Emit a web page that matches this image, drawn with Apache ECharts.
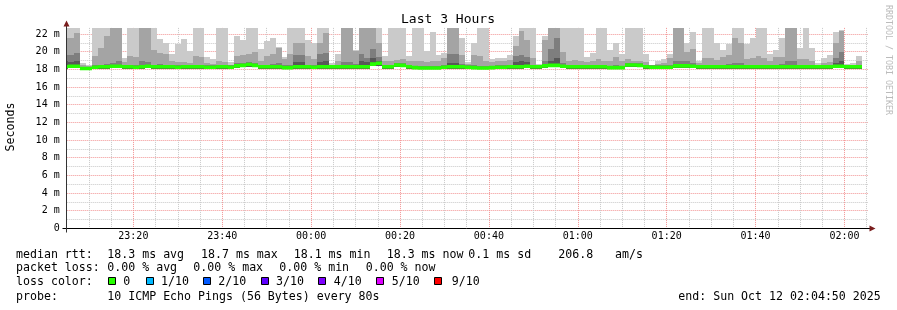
<!DOCTYPE html>
<html><head><meta charset="utf-8">
<script src="https://cdn.jsdelivr.net/npm/echarts@6/dist/echarts.min.js"></script>
<style>html,body{margin:0;padding:0;background:#fff}#c{width:897px;height:310px}</style>
</head><body><div id="c"></div>
<script>
// time in minutes after 23:00 (Oct 11); each sample covers 80 s
const FIRST_START = 4.0;
const STEP_MIN = 80 / 60;

// smoke: outermost (max ping) to inner pings, in ms
const maxPing = [
 22.9, 23.4, 24.0, 18.76, 18.5, 23.1, 24.5, 23.2, 25.0, 24.0,
 19.25, 23.0, 23.6, 25.5, 24.2, 23.3, 21.44, 20.95, 19.8, 20.9,
 21.44, 20.1, 23.0, 23.4, 19.4, 19.14, 22.9, 23.2, 18.88, 21.77,
 21.3, 23.5, 23.0, 20.3, 21.2, 21.6, 20.5, 19.4, 23.2, 24.0,
 23.6, 21.3, 20.95, 23.5, 24.4, 18.7, 19.8, 25.0, 24.6, 20.2,
 24.8, 24.1, 23.9, 23.3, 19.5, 23.4, 23.1, 23.8, 19.5, 23.2,
 22.9, 20.1, 22.2, 19.6, 19.9, 24.2, 23.7, 21.5, 18.8, 20.95,
 23.2, 22.9, 19.2, 19.3, 19.3, 19.6, 21.8, 23.4, 23.0, 23.1,
 18.6, 21.8, 24.3, 23.9, 23.1, 23.3, 23.6, 23.0, 19.4, 19.9,
 24.0, 23.2, 20.2, 20.95, 19.8, 23.4, 23.0, 23.5, 19.7, 18.3,
 18.9, 19.2, 19.7, 24.5, 24.0, 21.0, 22.2, 19.0, 23.3, 23.8,
 21.0, 20.2, 20.9, 23.6, 23.0, 20.9, 21.5, 23.2, 23.9, 19.7,
 20.2, 21.5, 24.8, 23.8, 20.4, 23.2, 20.4, 18.7, 19.25, 19.6,
 22.2, 22.45, 18.6, 18.7, 19.5
];
const ping9 = [
 21.5, 21.5, 22.15, 18.5, 18.35, 19.5, 20.4, 21.77, 23.5, 23.0,
 18.8, 19.5, 19.37, 23.2, 23.0, 20.2, 19.9, 19.8, 19.0, 18.88,
 18.88, 18.68, 19.5, 19.37, 18.7, 18.6, 18.9, 18.8, 18.5, 19.5,
 19.63, 19.8, 20.0, 18.9, 19.5, 19.8, 20.4, 19.2, 19.8, 20.95,
 21.0, 19.5, 19.2, 21.0, 22.1, 18.5, 18.9, 23.8, 23.3, 20.1,
 23.5, 23.0, 23.1, 21.0, 18.9, 19.0, 19.1, 19.2, 18.9, 19.0,
 18.9, 18.8, 18.9, 19.0, 19.3, 23.1, 22.9, 19.6, 18.6, 19.6,
 19.5, 18.9, 18.8, 18.9, 19.0, 19.1, 20.7, 22.3, 21.3, 19.3,
 18.5, 21.3, 23.0, 23.0, 20.0, 19.0, 19.1, 18.9, 18.8, 18.9,
 19.2, 19.0, 18.9, 19.4, 19.0, 19.2, 19.0, 19.0, 18.8, 18.3,
 18.6, 18.7, 19.3, 23.2, 23.0, 20.0, 20.3, 18.7, 19.3, 19.3,
 19.1, 19.4, 19.6, 21.5, 20.95, 19.2, 19.3, 19.5, 19.3, 18.9,
 19.4, 19.4, 23.5, 22.9, 19.2, 19.2, 18.9, 18.5, 18.7, 18.8,
 21.0, 22.4, 18.5, 18.5, 18.9
];
const ping8 = [
 19.6, 19.6, 19.9, 18.3, 18.3, 18.5, 18.5, 18.6, 18.7, 18.9,
 18.5, 18.5, 18.5, 19.0, 18.8, 18.5, 18.6, 18.5, 18.5, 18.45,
 18.5, 18.5, 18.5, 18.5, 18.45, 18.45, 18.5, 18.5, 18.45, 18.7,
 18.75, 18.8, 18.7, 18.5, 18.5, 18.6, 18.7, 18.45, 18.5, 19.6,
 19.6, 18.5, 18.5, 19.8, 19.9, 18.4, 18.5, 18.8, 18.8, 18.6,
 19.8, 19.3, 20.3, 19.4, 18.5, 18.5, 18.7, 18.7, 18.5, 18.4,
 18.35, 18.35, 18.35, 18.4, 18.5, 19.8, 19.7, 18.6, 18.45, 18.45,
 18.35, 18.35, 18.4, 18.45, 18.45, 18.5, 19.5, 19.6, 19.4, 18.5,
 18.5, 18.9, 20.3, 21.6, 18.7, 18.5, 18.5, 18.5, 18.5, 18.5,
 18.5, 18.5, 18.4, 18.45, 18.4, 18.7, 18.7, 18.7, 18.5, 18.45,
 18.45, 18.45, 18.5, 19.0, 19.0, 18.9, 18.7, 18.5, 18.5, 18.5,
 18.5, 18.5, 18.6, 18.7, 18.7, 18.5, 18.5, 18.5, 18.5, 18.5,
 18.5, 18.6, 18.9, 18.9, 18.5, 18.5, 18.5, 18.5, 18.5, 18.5,
 19.3, 20.0, 18.5, 18.5, 18.5
];
const ping7 = [
 18.9, 18.8, 18.9, 18.25, 18.25, 18.4, 18.45, 18.45, 18.5, 18.5,
 18.45, 18.45, 18.4, 18.5, 18.5, 18.45, 18.45, 18.45, 18.45, 18.4,
 18.45, 18.45, 18.45, 18.45, 18.4, 18.4, 18.45, 18.45, 18.4, 18.55,
 18.6, 18.7, 18.6, 18.45, 18.45, 18.45, 18.45, 18.35, 18.35, 18.8,
 18.8, 18.45, 18.4, 18.8, 19.0, 18.45, 18.45, 18.5, 18.5, 18.45,
 19.0, 18.8, 19.3, 19.0, 18.45, 18.45, 18.65, 18.6, 18.45, 18.35,
 18.3, 18.3, 18.3, 18.3, 18.4, 18.7, 18.7, 18.45, 18.4, 18.35,
 18.3, 18.3, 18.35, 18.4, 18.4, 18.45, 18.8, 19.0, 18.8, 18.45,
 18.45, 18.6, 18.9, 19.3, 18.5, 18.45, 18.45, 18.45, 18.45, 18.45,
 18.45, 18.45, 18.35, 18.35, 18.35, 18.65, 18.65, 18.6, 18.45, 18.4,
 18.4, 18.4, 18.4, 18.6, 18.6, 18.6, 18.5, 18.45, 18.45, 18.45,
 18.45, 18.45, 18.45, 18.45, 18.45, 18.45, 18.45, 18.45, 18.45, 18.45,
 18.45, 18.45, 18.5, 18.5, 18.45, 18.45, 18.45, 18.45, 18.45, 18.45,
 18.7, 18.9, 18.45, 18.45, 18.45
];
const minPing = [
 18.1, 18.15, 18.15, 18.0, 18.0, 18.1, 18.1, 18.1, 18.15, 18.15,
 18.1, 18.1, 18.1, 18.1, 18.15, 18.1, 18.1, 18.1, 18.1, 18.1,
 18.1, 18.1, 18.1, 18.1, 18.1, 18.1, 18.1, 18.1, 18.1, 18.2,
 18.25, 18.3, 18.25, 18.1, 18.1, 18.1, 18.1, 18.05, 18.05, 18.1,
 18.1, 18.1, 18.1, 18.1, 18.1, 18.1, 18.1, 18.1, 18.1, 18.1,
 18.1, 18.1, 18.35, 18.4, 18.1, 18.1, 18.3, 18.25, 18.1, 18.05,
 18.0, 18.0, 18.0, 18.0, 18.1, 18.1, 18.1, 18.1, 18.1, 18.05,
 18.0, 18.0, 18.05, 18.1, 18.1, 18.1, 18.1, 18.1, 18.15, 18.1,
 18.1, 18.2, 18.25, 18.25, 18.15, 18.1, 18.1, 18.1, 18.1, 18.1,
 18.1, 18.1, 18.05, 18.05, 18.05, 18.3, 18.3, 18.25, 18.1, 18.1,
 18.1, 18.1, 18.1, 18.2, 18.2, 18.2, 18.15, 18.1, 18.1, 18.1,
 18.1, 18.1, 18.1, 18.1, 18.1, 18.1, 18.1, 18.1, 18.1, 18.1,
 18.1, 18.1, 18.1, 18.1, 18.1, 18.1, 18.1, 18.1, 18.1, 18.1,
 18.15, 18.15, 18.1, 18.1, 18.1
];
const medianRtt = [
 18.3, 18.35, 18.35, 18.1, 18.1, 18.25, 18.3, 18.3, 18.35, 18.35,
 18.3, 18.3, 18.25, 18.3, 18.35, 18.3, 18.3, 18.3, 18.3, 18.25,
 18.3, 18.3, 18.3, 18.3, 18.25, 18.25, 18.3, 18.3, 18.25, 18.4,
 18.45, 18.55, 18.45, 18.3, 18.3, 18.3, 18.3, 18.2, 18.2, 18.3,
 18.3, 18.3, 18.25, 18.3, 18.3, 18.3, 18.3, 18.3, 18.3, 18.3,
 18.3, 18.3, 18.6, 18.7, 18.3, 18.3, 18.5, 18.45, 18.3, 18.2,
 18.15, 18.15, 18.15, 18.15, 18.25, 18.3, 18.3, 18.3, 18.25, 18.2,
 18.15, 18.15, 18.2, 18.25, 18.25, 18.3, 18.3, 18.3, 18.35, 18.3,
 18.3, 18.4, 18.45, 18.45, 18.35, 18.3, 18.3, 18.3, 18.3, 18.3,
 18.3, 18.3, 18.2, 18.2, 18.2, 18.5, 18.5, 18.45, 18.3, 18.25,
 18.25, 18.25, 18.25, 18.4, 18.4, 18.4, 18.35, 18.3, 18.3, 18.3,
 18.3, 18.3, 18.3, 18.3, 18.3, 18.3, 18.3, 18.3, 18.3, 18.3,
 18.3, 18.3, 18.3, 18.3, 18.3, 18.3, 18.3, 18.3, 18.3, 18.3,
 18.35, 18.35, 18.3, 18.3, 18.3
];

const xTickMinutes = [20, 40, 60, 80, 100, 120, 140, 160, 180];
const xTickLabels = ['23:20', '23:40', '00:00', '00:20', '00:40', '01:00', '01:20', '01:40', '02:00'];
const yTickValues = [0, 2, 4, 6, 8, 10, 12, 14, 16, 18, 20, 22];
const yTickLabels = ['0', '2 m', '4 m', '6 m', '8 m', '10 m', '12 m', '14 m', '16 m', '18 m', '20 m', '22 m'];

const lossLabels = ['0', '1/10', '2/10', '3/10', '4/10', '5/10', '9/10'];
const lossColors = ['#26ff00', '#00b8ff', '#0059ff', '#5e00ff', '#7e00ff', '#dd00ff', '#ff0000'];

const MONO = '"DejaVu Sans Mono", monospace';
const smokeColors = ['#cacaca', '#a4a4a4', '#7e7e7e', '#585858'];
const layers = [maxPing, ping9, ping8, ping7];

function times(i) { return FIRST_START + i * STEP_MIN; }

function rectRender(color) {
  return function (params, api) {
    const t = api.value(0);
    const a = api.coord([t, api.value(1)]);
    const b = api.coord([t + STEP_MIN, api.value(2)]);
    const x0 = Math.round(a[0]), x1 = Math.round(b[0]);
    const y0 = Math.round(a[1]), y1 = Math.round(b[1]);
    return { type: 'rect', shape: { x: x0, y: y1, width: x1 - x0, height: y0 - y1 }, style: { fill: color } };
  };
}
function medianRender(params, api) {
  const t = api.value(0);
  const a = api.coord([t, api.value(1)]);
  const b = api.coord([t + STEP_MIN, api.value(1)]);
  const x0 = Math.round(a[0]), x1 = Math.round(b[0]);
  return { type: 'rect', shape: { x: x0, y: a[1] - 1.8, width: x1 - x0, height: 3.6 }, style: { fill: lossColors[0] } };
}

const series = layers.map((arr, li) => ({
  type: 'custom', name: 'smoke' + li, clip: true, silent: true,
  renderItem: rectRender(smokeColors[li]),
  encode: { x: 0, y: [1, 2] },
  data: arr.map((v, i) => [times(i), minPing[i], v])
}));
series.push({
  type: 'custom', name: 'median', clip: true, silent: true,
  renderItem: medianRender, encode: { x: 0, y: 1 },
  data: medianRtt.map((v, i) => [times(i), v])
});

// legend text
const texts = [
  ['median rtt:', 16, 254.5], ['18.3 ms avg', 107.3, 254.5], ['18.7 ms max', 201, 254.5],
  ['18.1 ms min', 293.7, 254.5], ['18.3 ms now', 386.7, 254.5], ['0.1 ms sd', 468.3, 254.5],
  ['206.8', 558.3, 254.5], ['am/s', 615, 254.5],
  ['packet loss:', 16, 268.4], ['0.00 % avg', 107.3, 268.4], ['0.00 % max', 193.3, 268.4],
  ['0.00 % min', 279.3, 268.4], ['0.00 % now', 365.7, 268.4],
  ['loss color:', 16, 282.4],
  ['probe:', 16, 296.5], ['10 ICMP Echo Pings (56 Bytes) every 80s', 107.3, 296.5],
  ['end: Sun Oct 12 02:04:50 2025', 678.3, 296.5]
];
const lossSquareX = [108.5, 146.5, 203.5, 261.5, 318.5, 376.5, 434.5];
const lossTextX = [123.3, 161, 218.3, 276, 333.7, 391.7, 451.7];

const graphics = [];
texts.forEach(t => graphics.push({
  type: 'text', z: 100, silent: true,
  style: { text: t[0], x: t[1], y: t[2], font: '11.6px ' + MONO, fill: '#000', textVerticalAlign: 'middle', verticalAlign: 'middle' }
}));
lossLabels.forEach((lab, i) => {
  graphics.push({ type: 'rect', z: 100, silent: true, shape: { x: lossSquareX[i], y: 277.5, width: 7, height: 7 },
    style: { fill: lossColors[i], stroke: '#000', lineWidth: 1 } });
  graphics.push({ type: 'text', z: 100, silent: true,
    style: { text: lab, x: lossTextX[i], y: 282.4, font: '11.6px ' + MONO, fill: '#000', textVerticalAlign: 'middle', verticalAlign: 'middle' } });
});
graphics.push({ type: 'text', z: 100, silent: true,
  style: { text: 'Last 3 Hours', x: 448, y: 19.5, font: '13px ' + MONO, fill: '#000', textAlign: 'center', align: 'center', textVerticalAlign: 'middle', verticalAlign: 'middle' } });
graphics.push({ type: 'text', z: 100, silent: true, x: 11, y: 127, rotation: Math.PI / 2,
  style: { text: 'Seconds', x: 0, y: 0, font: '11.6px ' + MONO, fill: '#000', textAlign: 'center', align: 'center', textVerticalAlign: 'middle', verticalAlign: 'middle' } });
graphics.push({ type: 'text', z: 100, silent: true, x: 888, y: 60, rotation: -Math.PI / 2,
  style: { text: 'RRDTOOL / TOBI OETIKER', x: 0, y: 0, font: '8.3px ' + MONO, fill: '#bbbbbb', textAlign: 'center', align: 'center', textVerticalAlign: 'middle', verticalAlign: 'middle' } });
graphics.push({ type: 'line', z: 100, silent: true, shape: { x1: 62.5, y1: 228.5, x2: 870, y2: 228.5 }, style: { stroke: '#000', lineWidth: 1 } });
graphics.push({ type: 'line', z: 100, silent: true, shape: { x1: 66.5, y1: 232.5, x2: 66.5, y2: 25 }, style: { stroke: '#333', lineWidth: 1 } });
graphics.push({ type: 'polygon', z: 101, silent: true, shape: { points: [[875.5, 228.5], [869.5, 225.5], [869.5, 231.5]] }, style: { fill: '#7a1d1d' } });
graphics.push({ type: 'polygon', z: 101, silent: true, shape: { points: [[66.5, 20.5], [63.5, 26.5], [69.5, 26.5]] }, style: { fill: '#7a1d1d' } });

const chart = echarts.init(document.getElementById('c'), null, { renderer: 'canvas' });
chart.setOption({
  animation: false,
  backgroundColor: '#fff',
  grid: { left: 66.7, top: 27.9, width: 801.3, height: 200.4, containLabel: false },
  xAxis: {
    type: 'value', min: 5, max: 185.3, interval: 5,
    axisLine: { show: false }, axisTick: { show: false },
    axisLabel: {
      margin: 3, fontFamily: MONO, fontSize: 10, color: '#000',
      formatter: v => { const i = xTickMinutes.indexOf(Math.round(v * 1000) / 1000); return i >= 0 ? xTickLabels[i] : ''; }
    },
    splitLine: { show: true, showMaxLine: false,
      lineStyle: { color: ['#c8c8c8', '#c8c8c8', '#c8c8c8', '#f29494'], width: 1, type: [1, 1] } }
  },
  yAxis: {
    type: 'value', min: 0, max: 22.7, interval: 1,
    axisLine: { show: false }, axisTick: { show: false },
    axisLabel: {
      margin: 7, fontFamily: MONO, fontSize: 10, color: '#000',
      formatter: v => { const i = yTickValues.indexOf(Math.round(v * 1000) / 1000); return i >= 0 ? yTickLabels[i] : ''; }
    },
    splitLine: { show: true, showMaxLine: false,
      lineStyle: { color: ['#f29494', '#c8c8c8'], width: 1, type: [1, 1] } }
  },
  series: series,
  graphic: { elements: graphics }
});
</script></body></html>
